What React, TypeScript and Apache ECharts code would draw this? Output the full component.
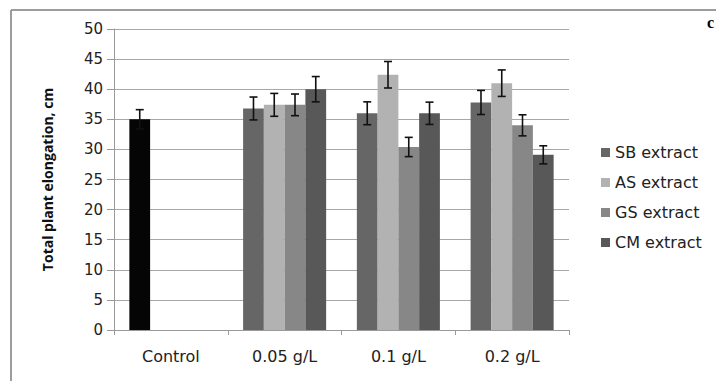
import React, { useEffect, useRef } from "react";
import * as echarts from "echarts";

const categories = ["Control", "0.05 g/L", "0.1 g/L", "0.2 g/L"];
const seriesNames = ["SB extract", "AS extract", "GS extract", "CM extract"];
const controlValue = [35, null, null, null];
const controlErr = [1.6, null, null, null];
const sbValues = [null, 36.8, 36.0, 37.8];
const asValues = [null, 37.4, 42.4, 41.0];
const gsValues = [null, 37.4, 30.4, 34.0];
const cmValues = [null, 40.0, 36.0, 29.1];
const sbErr = [null, 1.9, 1.9, 2.0];
const asErr = [null, 1.9, 2.2, 2.2];
const gsErr = [null, 1.8, 1.6, 1.75];
const cmErr = [null, 2.1, 1.85, 1.5];
const colors = ["#666666", "#b2b2b2", "#878787", "#585858"];
const controlColor = "#050505";
const yTicks = [0, 5, 10, 15, 20, 25, 30, 35, 40, 45, 50];

const CAT_GAP = 0.27;

export default function App() {
  const ref = useRef<HTMLDivElement>(null);
  useEffect(() => {
    if (!ref.current) return;
    const chart = echarts.init(ref.current, null, { renderer: "svg" });

    const sbData = categories.map((_, i) =>
      controlValue[i] != null
        ? { value: controlValue[i], itemStyle: { color: controlColor } }
        : sbValues[i]
    );
    const sbErrAll = categories.map((_, i) => (controlErr[i] != null ? controlErr[i] : sbErr[i]));
    const sbPlain = categories.map((_, i) => (controlValue[i] != null ? controlValue[i] : sbValues[i]));
    const vals = [sbPlain, asValues, gsValues, cmValues];
    const errs = [sbErrAll, asErr, gsErr, cmErr];
    const barData = [sbData, asValues, gsValues, cmValues];

    const barSeries = seriesNames.map((name, s) => ({
      name,
      type: "bar",
      data: barData[s],
      barGap: "0%",
      barCategoryGap: CAT_GAP * 100 + "%",
      itemStyle: { color: colors[s] },
      z: 2,
    }));

    const errData: any[] = [];
    for (let s = 0; s < 4; s++) {
      for (let i = 0; i < categories.length; i++) {
        const v = vals[s][i];
        const e = errs[s][i];
        if (v != null && e != null) errData.push([i, v, e, s]);
      }
    }

    const errSeries = {
      type: "custom",
      name: "err",
      z: 5,
      data: errData,
      renderItem: (params: any, api: any) => {
        const ci = api.value(0);
        const v = api.value(1);
        const e = api.value(2);
        const s = api.value(3);
        const catW = api.size([1, 0])[0];
        const groupW = catW * (1 - CAT_GAP);
        const bw = groupW / 4;
        const center = api.coord([ci, v]);
        const x = center[0] - groupW / 2 + bw * (s + 0.5);
        const yTop = api.coord([ci, v + e])[1];
        const yBot = api.coord([ci, v - e])[1];
        const cap = 4;
        const st = { stroke: "#111", lineWidth: 1.6 };
        return {
          type: "group",
          children: [
            { type: "line", shape: { x1: x, y1: yTop, x2: x, y2: yBot }, style: st },
            { type: "line", shape: { x1: x - cap, y1: yTop, x2: x + cap, y2: yTop }, style: st },
            { type: "line", shape: { x1: x - cap, y1: yBot, x2: x + cap, y2: yBot }, style: st },
          ],
        };
      },
    };

    chart.setOption({
      animation: false,
      backgroundColor: "#ffffff",
      grid: { left: 114, right: 147, top: 29, bottom: 51, containLabel: false },
      legend: {
        data: seriesNames.map((n, i) => ({ name: n, itemStyle: { color: colors[i] } })),
        orient: "vertical",
        left: 596,
        top: 139,
        icon: "rect",
        itemWidth: 9,
        itemHeight: 9,
        itemGap: 13,
        textStyle: { fontFamily: "DejaVu Sans", fontSize: 16, color: "#222", lineHeight: 17 },
      },
      xAxis: {
        type: "category",
        data: categories,
        axisLine: { lineStyle: { color: "#9a9a9a", width: 1 } },
        axisTick: { show: true, length: 5, lineStyle: { color: "#9a9a9a" } },
        axisLabel: { margin: 18, fontFamily: "DejaVu Sans", fontSize: 16, color: "#222" },
      },
      yAxis: {
        type: "value",
        min: 0,
        max: 50,
        interval: 5,
        name: "Total plant elongation, cm",
        nameLocation: "middle",
        nameGap: 60,
        nameTextStyle: { fontFamily: "Open Sans", fontSize: 14, fontWeight: "bold", color: "#111" },
        axisLine: { show: true, lineStyle: { color: "#9a9a9a" } },
        axisTick: { show: true, length: 7, lineStyle: { color: "#9a9a9a" } },
        axisLabel: { margin: 11, fontFamily: "DejaVu Sans", fontSize: 15, color: "#222",
          formatter: (v: number) => (yTicks.includes(v) ? String(v) : "") },
        splitLine: { show: true, lineStyle: { color: "#a8a8a8", width: 1 } },
      },
      graphic: [
        { type: "line", shape: { x1: 11, y1: 10, x2: 716, y2: 10 }, style: { stroke: "#9c9c9c", lineWidth: 2 } },
        { type: "line", shape: { x1: 11, y1: 10, x2: 11, y2: 381 }, style: { stroke: "#9c9c9c", lineWidth: 2 } },
        { type: "text", left: 707, top: 14, style: { text: "c", font: "bold 16px 'Liberation Serif'", fill: "#000" } },
      ],
      series: [...barSeries, errSeries],
    });
    return () => chart.dispose();
  }, []);
  return <div ref={ref} style={{ position: "absolute", left: 0, top: 0, width: 716, height: 381 }} />;
}
